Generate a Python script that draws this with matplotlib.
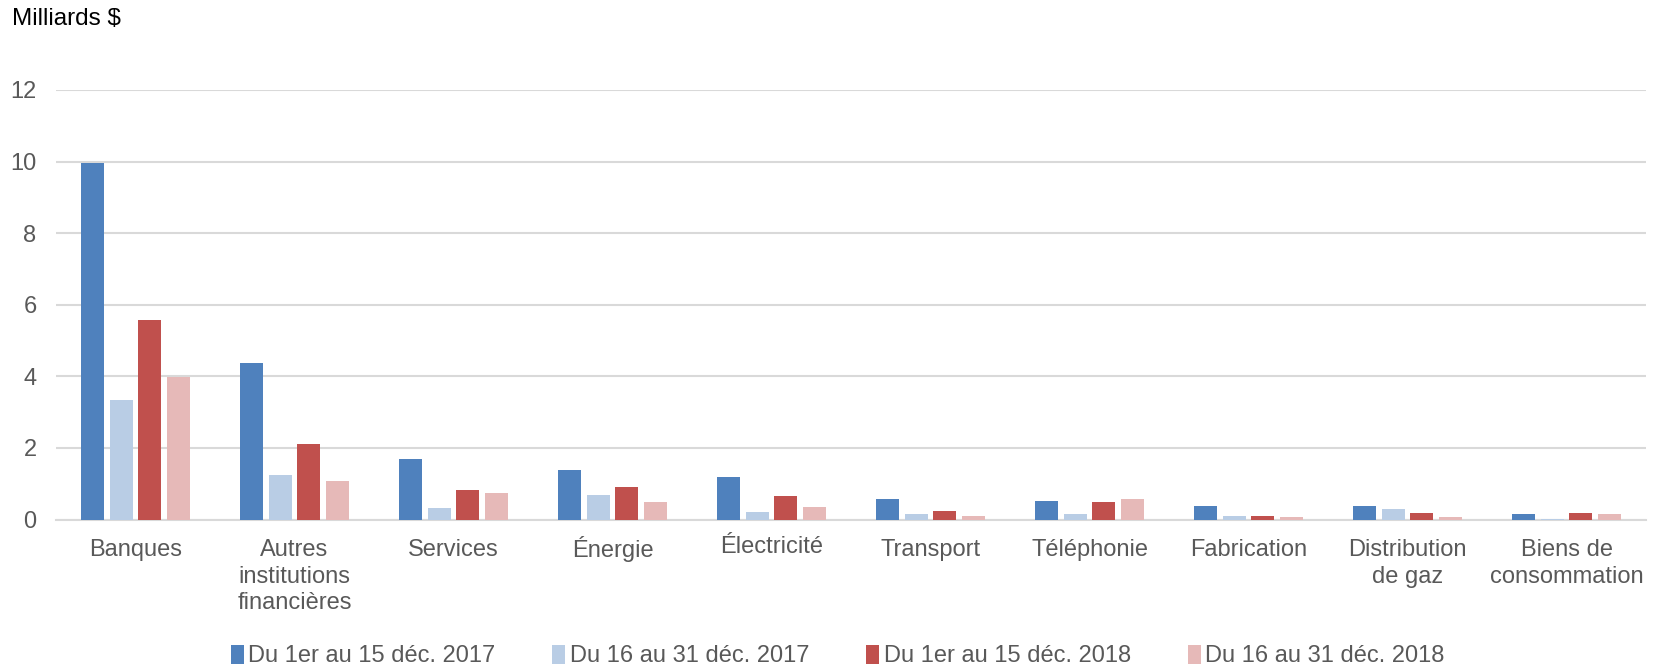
import matplotlib
matplotlib.use("Agg")
import matplotlib.pyplot as plt
import matplotlib.transforms as mtransforms
import numpy as np

plt.rcParams['font.family'] = ['Liberation Sans', 'DejaVu Sans']

categories = ["Banques", "Autres\ninstitutions\nfinancières", "Services", "Énergie",
              "Électricité", "Transport", "Téléphonie", "Fabrication",
              "Distribution\nde gaz", "Biens de\nconsommation"]
series_names = ["Du 1er au 15 déc. 2017", "Du 16 au 31 déc. 2017",
                "Du 1er au 15 déc. 2018", "Du 16 au 31 déc. 2018"]
s2017a = [9.95, 4.37, 1.70, 1.38, 1.19, 0.56, 0.52, 0.37, 0.37, 0.14]
s2017b = [3.35, 1.23, 0.32, 0.68, 0.22, 0.16, 0.14, 0.09, 0.29, 0.02]
s2018a = [5.57, 2.12, 0.83, 0.91, 0.65, 0.24, 0.50, 0.10, 0.17, 0.19]
s2018b = [3.99, 1.07, 0.74, 0.49, 0.35, 0.10, 0.58, 0.06, 0.06, 0.16]
yticks = [0, 2, 4, 6, 8, 10, 12]

colors = ["#4F81BD", "#B9CDE5", "#C0504D", "#E6B9B8"]
text_color = "#595959"

fig = plt.figure(figsize=(16.59, 6.67), dpi=100)
ax = fig.add_axes([56/1659, 1-519.5/667, 1590/1659, (519.5-90)/667])

x = np.arange(len(categories))
step = 0.18
width = 0.143
for i, (vals, name) in enumerate(zip([s2017a, s2017b, s2018a, s2018b], series_names)):
    ax.bar(x + (i - 1.5) * step, vals, width=width, color=colors[i], label=name, zorder=3)

ax.set_xlim(-0.5, len(categories) - 0.5)
ax.set_ylim(0, 12)
ax.set_yticks(yticks)
ax.set_yticklabels([str(v) for v in yticks])
ax.set_xticks(x)
ax.set_xticklabels(categories, linespacing=1.28)
ax.tick_params(axis='both', length=0, labelsize=17, colors=text_color)
ax.tick_params(axis='x', pad=14)
ax.tick_params(axis='y', pad=14)
# keep accented labels on the same baseline as the others
for lab in ax.get_xticklabels():
    if lab.get_text().startswith("É"):
        lab.set_transform(lab.get_transform() +
                          mtransforms.ScaledTranslation(0, 3/100, fig.dpi_scale_trans))
ax.grid(axis='y', color='#D9D9D9', linewidth=1.5, zorder=0)
for s in ['top', 'right', 'left']:
    ax.spines[s].set_visible(False)
ax.spines['bottom'].set_color('#D9D9D9')
ax.spines['bottom'].set_linewidth(1.5)

fig.text(12/1659, 1-19/667, "Milliards $", fontsize=17.5, color='black', va='center', ha='left')

leg = fig.legend(loc='center', bbox_to_anchor=(0.505, 1-656/667), ncol=4, frameon=False,
                 fontsize=17, handlelength=0.55, handleheight=0.9, handletextpad=0.2,
                 columnspacing=2.4)
for t in leg.get_texts():
    t.set_color(text_color)

fig.savefig("out.png", dpi=100)
